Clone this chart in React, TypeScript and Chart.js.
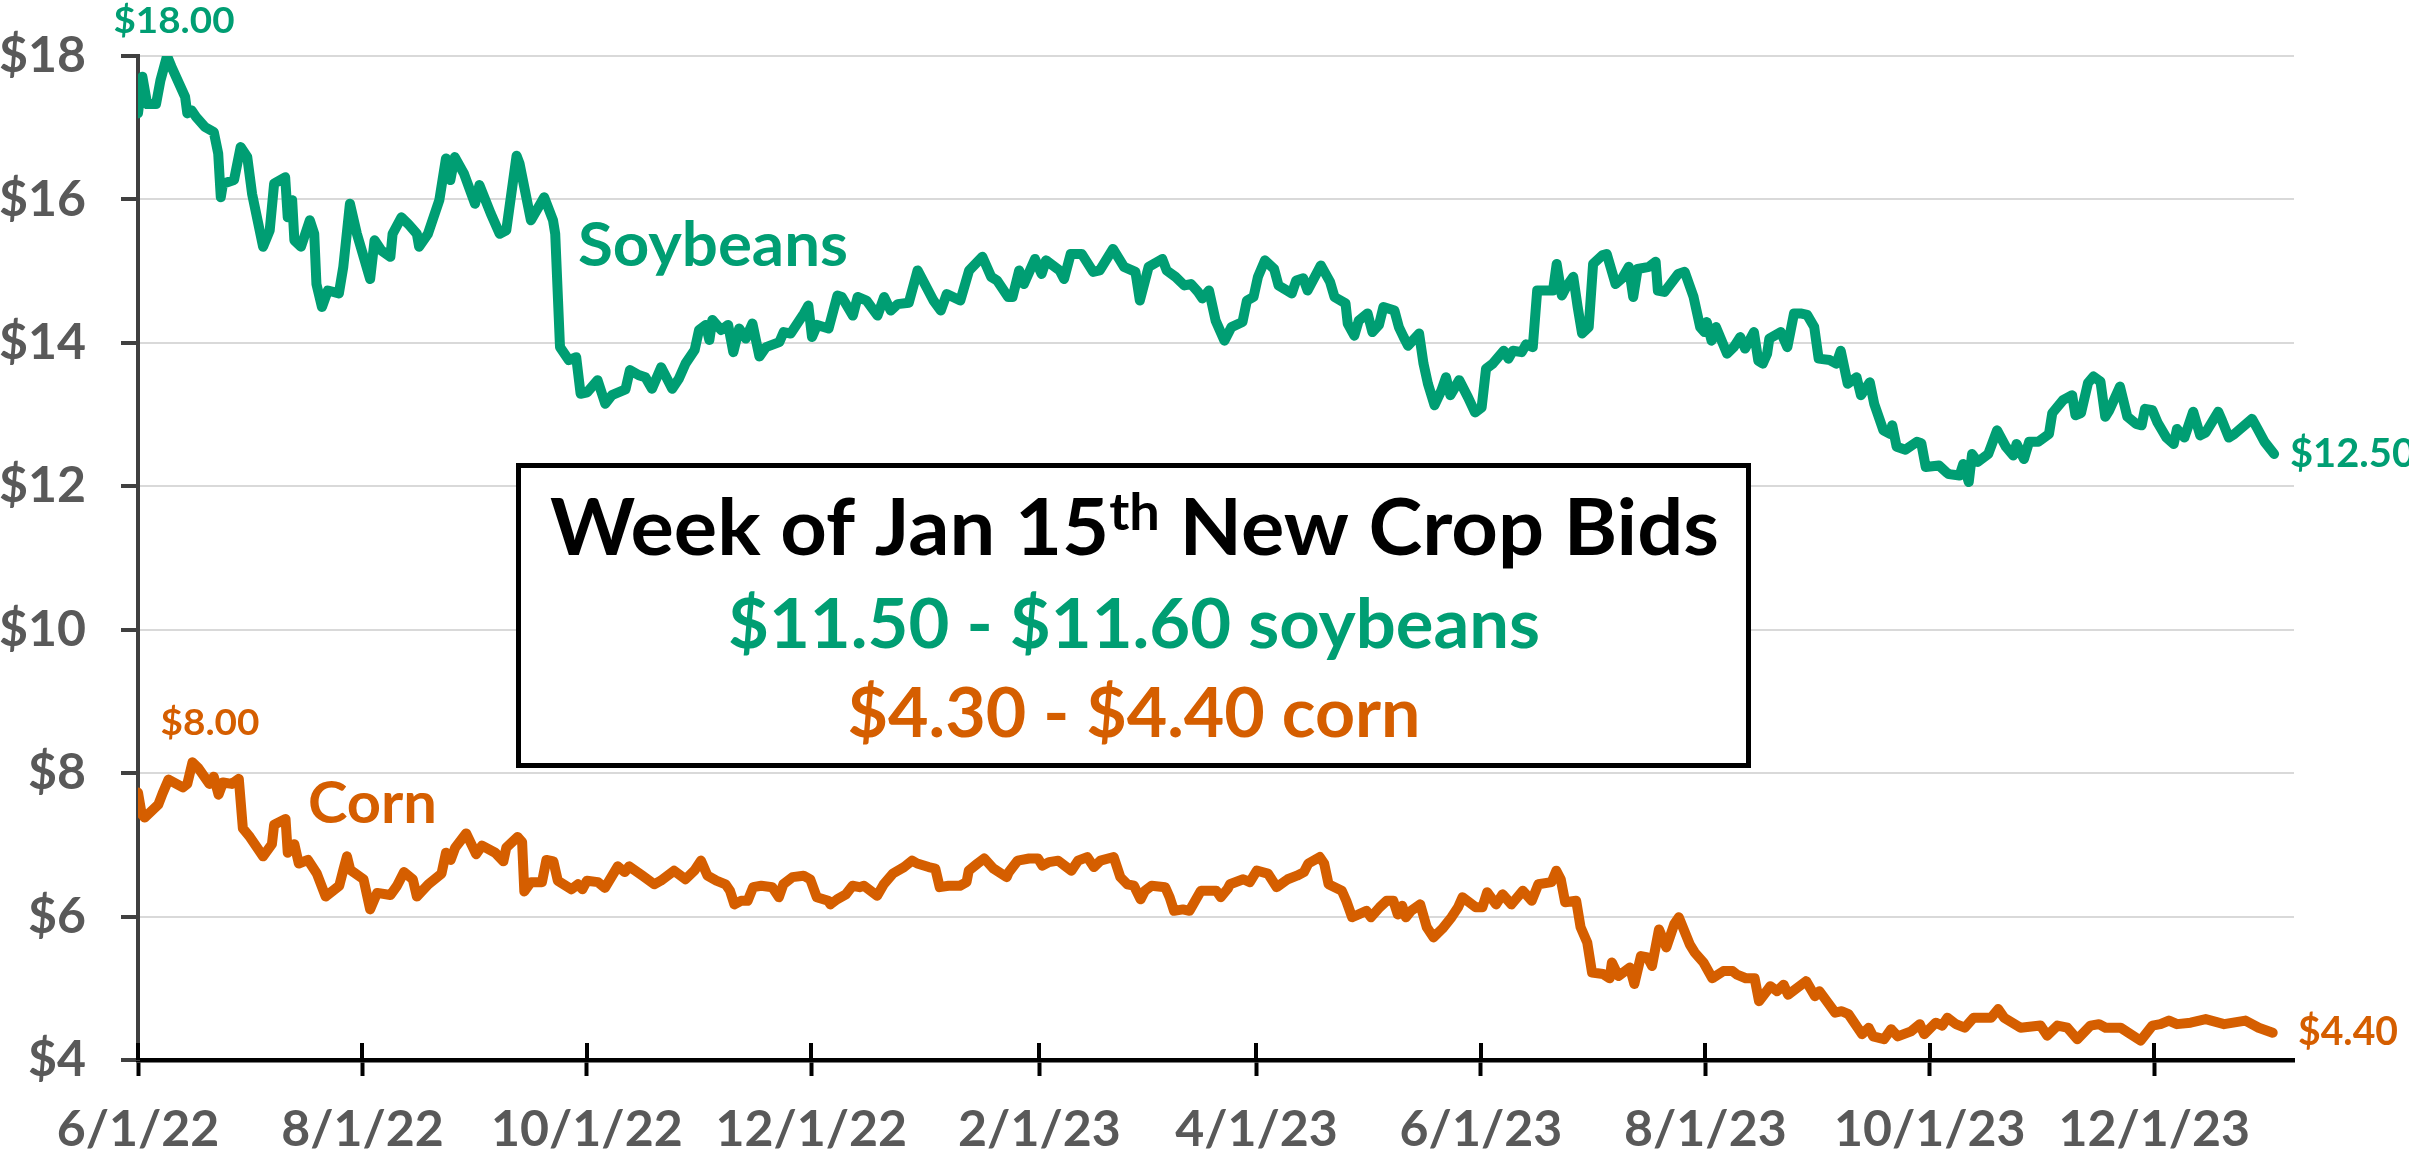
import React, { useEffect, useRef } from 'react';
import { Chart, registerables } from 'chart.js';

Chart.register(...registerables);

// ---------- data ----------
const START_DATE = '2022-06-01';
const AXIS_END_DATE = '2024-01-08';

const TICK_DATES = ['2022-06-01', '2022-08-01', '2022-10-01', '2022-12-01', '2023-02-01', '2023-04-01', '2023-06-01', '2023-08-01', '2023-10-01', '2023-12-01'];
const TICK_LABELS = ['6/1/22', '8/1/22', '10/1/22', '12/1/22', '2/1/23', '4/1/23', '6/1/23', '8/1/23', '10/1/23', '12/1/23'];

const Y_MIN = 4;
const Y_MAX = 18;
const Y_STEP = 2;

// days since 6/1/22
const SOY_DAYS = [0, 1.2, 2.5, 4.9, 6.1, 7.9, 9.1, 12.8, 13.4, 14.6, 15.8, 18.2, 20.6, 21.8, 22.5, 23.1, 26.1, 27.9, 29.7, 31, 34, 35.8, 37, 40, 40.7, 41.9, 42.5, 44.3, 46.7, 47.9, 48.5, 50, 51.6, 54.6, 55.8, 57.6, 59.5, 63.1, 64.3, 66.1, 68.6, 69.2, 71.6, 73.4, 75.8, 76.4, 78.8, 81.9, 83.7, 84.9, 86.1, 88.6, 91.6, 92.8, 95.9, 98.3, 100.1, 102.9, 103.7, 106.8, 110.4, 112.8, 113.4, 114.7, 117.1, 119.1, 120.3, 122.1, 124.9, 127, 128.8, 132.5, 133.7, 136.1, 137.9, 139.7, 142.2, 145.2, 147, 148.8, 151.3, 152.5, 154.3, 155.3, 156.1, 158.5, 160.4, 161.8, 163.4, 165.2, 167, 168.9, 170.7, 174.3, 175.5, 177.4, 181, 182.2, 183.2, 184.6, 187.7, 190.1, 191.3, 194.3, 195.6, 198, 201, 202.8, 204.6, 206.5, 209.5, 211.9, 216.2, 218.2, 219.8, 223.5, 225.9, 229.5, 231.9, 233.5, 236.5, 237.7, 239.5, 240.8, 243.8, 245.6, 246.8, 250.5, 251.7, 253.5, 256.5, 259.6, 261.4, 265, 268, 271.1, 272.3, 274.7, 278.4, 279.6, 282, 284.4, 286.2, 288.1, 289.3, 291.1, 292.9, 295.3, 297.2, 300.2, 301.4, 303.2, 304.4, 306.3, 308.8, 310, 313.6, 314.8, 316.7, 317.9, 321.5, 324, 325.2, 328.2, 328.8, 330.6, 331.8, 334.2, 335.5, 337.3, 338.5, 341.5, 342.7, 344, 345.2, 348.2, 349.4, 350.6, 352.4, 354.3, 355.5, 356.7, 359.1, 361.5, 363.4, 365.2, 366.4, 368.2, 371.2, 372.5, 373.7, 376.1, 377.3, 379.1, 380.3, 384.6, 385.6, 387, 388.2, 390.1, 391.3, 392.5, 394.3, 395.5, 398, 399.2, 401.6, 403.4, 405.2, 406.4, 407.6, 410.7, 412.5, 413.1, 414.9, 418.6, 420.4, 422.8, 424.6, 425.8, 426.4, 427.7, 428.9, 431.9, 433.7, 435.5, 436.8, 439.2, 440.4, 441.6, 442.8, 443.4, 446.5, 448.3, 450.1, 451.9, 453.7, 455.6, 456.8, 459.8, 461.6, 462.8, 464.7, 467.1, 468.3, 470.7, 471.9, 474.4, 476.2, 476.8, 478, 480.4, 483.5, 484.7, 485.9, 489.5, 491.4, 492.2, 495.1, 496.1, 497.6, 498.5, 500, 502.9, 505.3, 507.7, 509.7, 510.6, 512.6, 514, 516.5, 519.4, 520.3, 523.2, 525.7, 526.6, 528.1, 530, 531.5, 533.4, 534.7, 535.8, 538.7, 540.7, 543.1, 544.6, 545.5, 547.5, 548.9, 551.3, 553.3, 554.2, 556.2, 558.6, 560.5, 562, 564, 565.4, 566.4, 568.3, 569.8, 574.6, 576.1, 578, 580.6];
const SOY_PRICES = [17.2, 17.71, 17.33, 17.33, 17.66, 18.0, 17.85, 17.43, 17.2, 17.24, 17.15, 17.01, 16.94, 16.64, 16.03, 16.22, 16.27, 16.73, 16.59, 16.08, 15.34, 15.57, 16.22, 16.31, 15.75, 15.99, 15.43, 15.34, 15.71, 15.52, 14.82, 14.5, 14.73, 14.69, 15.06, 15.94, 15.52, 14.89, 15.43, 15.29, 15.2, 15.52, 15.75, 15.66, 15.52, 15.34, 15.52, 15.99, 16.57, 16.27, 16.59, 16.36, 15.94, 16.2, 15.8, 15.52, 15.57, 16.61, 16.5, 15.71, 16.03, 15.71, 15.52, 13.94, 13.76, 13.8, 13.29, 13.31, 13.48, 13.15, 13.27, 13.35, 13.62, 13.55, 13.52, 13.36, 13.66, 13.36, 13.5, 13.71, 13.9, 14.18, 14.25, 14.04, 14.32, 14.18, 14.25, 13.87, 14.2, 14.06, 14.27, 13.81, 13.94, 14.01, 14.15, 14.13, 14.41, 14.52, 14.08, 14.25, 14.2, 14.66, 14.64, 14.38, 14.64, 14.59, 14.38, 14.64, 14.45, 14.54, 14.56, 15.01, 14.59, 14.45, 14.68, 14.59, 15.01, 15.2, 14.92, 14.87, 14.64, 14.64, 15.01, 14.82, 15.17, 14.96, 15.15, 15.01, 14.89, 15.24, 15.24, 14.99, 15.01, 15.31, 15.06, 14.99, 14.59, 15.06, 15.17, 15.01, 14.92, 14.8, 14.82, 14.71, 14.62, 14.73, 14.31, 14.03, 14.22, 14.29, 14.59, 14.64, 14.92, 15.15, 15.03, 14.8, 14.69, 14.87, 14.9, 14.73, 15.08, 14.85, 14.64, 14.55, 14.27, 14.1, 14.31, 14.41, 14.15, 14.25, 14.5, 14.45, 14.22, 14.08, 13.96, 14.13, 13.71, 13.43, 13.13, 13.34, 13.52, 13.27, 13.48, 13.24, 13.03, 13.1, 13.64, 13.71, 13.89, 13.78, 13.89, 13.87, 13.98, 13.94, 14.73, 14.73, 15.1, 14.66, 14.78, 14.92, 14.5, 14.13, 14.22, 15.1, 15.22, 15.24, 14.82, 14.9, 15.06, 14.64, 15.03, 15.06, 15.13, 14.73, 14.71, 14.96, 14.99, 14.64, 14.22, 14.15, 14.29, 14.03, 14.22, 13.85, 13.94, 14.08, 13.92, 14.15, 13.75, 13.71, 13.85, 14.06, 14.15, 13.94, 14.41, 14.41, 14.39, 14.22, 13.78, 13.76, 13.71, 13.89, 13.43, 13.52, 13.27, 13.45, 13.15, 12.78, 12.73, 12.85, 12.55, 12.51, 12.62, 12.6, 12.27, 12.29, 12.2, 12.17, 12.15, 12.31, 12.06, 12.45, 12.34, 12.45, 12.78, 12.55, 12.43, 12.59, 12.38, 12.62, 12.62, 12.73, 13.02, 13.2, 13.27, 12.99, 13.02, 13.44, 13.53, 13.46, 12.97, 13.06, 13.39, 12.97, 12.87, 12.85, 13.08, 13.06, 12.89, 12.68, 12.59, 12.8, 12.68, 13.04, 12.71, 12.75, 12.92, 13.04, 12.92, 12.68, 12.73, 12.94, 12.8, 12.62, 12.45];

const CORN_DAYS = [0, 1, 1.8, 5.5, 6.7, 8.3, 12.2, 13.4, 14.8, 16.4, 19.4, 20.6, 21.9, 23.1, 25.5, 27.4, 28.5, 30.4, 34, 36.4, 37, 40.1, 40.7, 42.5, 43.7, 46.2, 48.6, 51, 54.7, 55.9, 56.8, 57.7, 61.3, 63.1, 65, 68.6, 70.4, 72.3, 74.7, 75.8, 78.9, 82.5, 83.7, 85, 86.2, 89.2, 91.9, 93.5, 97.1, 99.3, 100.1, 103.2, 104.4, 105, 106.8, 109.8, 111, 112.9, 114.1, 117.8, 119.6, 120.8, 122, 125, 126.9, 130.4, 132.3, 133.5, 137.1, 140.3, 142.1, 145.7, 148.8, 151.2, 153, 154.8, 157.2, 159.7, 160.9, 162.1, 163.9, 165.7, 167.2, 169.4, 172.4, 174.2, 175.4, 177.9, 180.9, 182.7, 184.5, 187.6, 188.2, 190, 192.4, 194.2, 196.1, 197.3, 200.9, 202.7, 205.2, 208.2, 210.4, 211.8, 214.9, 216.7, 217.9, 220.3, 223.4, 225.2, 225.8, 228.2, 230, 232.5, 236.1, 236.7, 239.1, 242.2, 244.6, 245.8, 247.6, 250.1, 251.9, 253.7, 255.5, 258, 259.8, 261.6, 265.2, 267, 268.9, 270.7, 272.5, 273.7, 275.5, 279.2, 280.4, 281.6, 284, 285.8, 288.9, 293.1, 294.3, 296.2, 296.8, 300.4, 302.2, 304.1, 307.1, 309.5, 312.5, 315, 316.9, 318.1, 321.2, 322.4, 323.6, 327.2, 328.4, 330, 333.9, 335.1, 337.5, 339.4, 341.2, 342.4, 343.6, 344.6, 346, 348.5, 350.3, 352.1, 354.5, 357, 358.8, 360, 363.6, 365.4, 366.7, 369.1, 370.9, 373.3, 376.4, 378.8, 380.6, 384.2, 385.5, 386.7, 387.9, 390.9, 392.1, 393.9, 395.2, 398.2, 400, 400.6, 402.4, 405.5, 406.7, 408.5, 410.3, 411.5, 413.4, 415.4, 417.6, 418.8, 421.8, 423.1, 425.5, 427.9, 430.9, 433.4, 434.6, 437, 439.4, 440.6, 443.7, 445.5, 447.3, 448.5, 453.4, 455.8, 457, 461.3, 463.1, 464.9, 468.6, 470.4, 471.6, 474.6, 476.5, 478.3, 481.9, 484.3, 485.5, 488.6, 490.4, 491.8, 494.1, 496.5, 498.9, 503.7, 505.6, 507.2, 511.7, 517.1, 518.9, 521.7, 524.4, 527.1, 530.7, 533, 534.8, 538.9, 544.3, 547.5, 549.7, 552, 554.2, 557.9, 562, 567, 572.8, 576.4, 580.2];
const CORN_PRICES = [7.73, 7.43, 7.38, 7.56, 7.72, 7.91, 7.8, 7.85, 8.15, 8.07, 7.85, 7.95, 7.7, 7.87, 7.85, 7.92, 7.23, 7.11, 6.84, 7.01, 7.28, 7.36, 6.89, 7.01, 6.74, 6.79, 6.6, 6.28, 6.43, 6.67, 6.84, 6.65, 6.52, 6.1, 6.33, 6.3, 6.43, 6.62, 6.52, 6.28, 6.45, 6.6, 6.89, 6.79, 6.96, 7.16, 6.87, 6.99, 6.89, 6.77, 6.96, 7.11, 7.04, 6.35, 6.48, 6.48, 6.79, 6.77, 6.5, 6.38, 6.45, 6.38, 6.5, 6.48, 6.4, 6.7, 6.62, 6.7, 6.57, 6.45, 6.5, 6.64, 6.52, 6.64, 6.78, 6.57, 6.5, 6.45, 6.36, 6.17, 6.22, 6.22, 6.41, 6.43, 6.41, 6.27, 6.45, 6.55, 6.57, 6.52, 6.27, 6.22, 6.17, 6.24, 6.31, 6.43, 6.41, 6.43, 6.29, 6.45, 6.6, 6.69, 6.78, 6.74, 6.69, 6.67, 6.41, 6.43, 6.43, 6.48, 6.64, 6.74, 6.81, 6.67, 6.55, 6.62, 6.78, 6.81, 6.81, 6.71, 6.76, 6.78, 6.71, 6.64, 6.78, 6.83, 6.69, 6.78, 6.83, 6.55, 6.45, 6.43, 6.24, 6.36, 6.43, 6.41, 6.27, 6.08, 6.1, 6.08, 6.36, 6.36, 6.27, 6.39, 6.45, 6.52, 6.48, 6.64, 6.6, 6.41, 6.52, 6.57, 6.62, 6.74, 6.83, 6.74, 6.45, 6.36, 6.22, 5.99, 6.08, 5.99, 6.13, 6.22, 6.22, 6.03, 6.15, 5.99, 6.08, 6.17, 5.85, 5.71, 5.83, 5.99, 6.13, 6.27, 6.13, 6.13, 6.34, 6.17, 6.31, 6.17, 6.36, 6.22, 6.45, 6.48, 6.64, 6.52, 6.2, 6.22, 5.85, 5.64, 5.22, 5.2, 5.14, 5.36, 5.17, 5.29, 5.06, 5.45, 5.43, 5.31, 5.82, 5.57, 5.9, 5.99, 5.61, 5.5, 5.36, 5.14, 5.24, 5.24, 5.19, 5.14, 5.14, 4.82, 5.03, 4.96, 5.05, 4.91, 5.1, 4.89, 4.96, 4.66, 4.68, 4.64, 4.36, 4.45, 4.33, 4.29, 4.43, 4.33, 4.4, 4.5, 4.36, 4.52, 4.48, 4.59, 4.5, 4.45, 4.59, 4.59, 4.71, 4.59, 4.45, 4.48, 4.34, 4.48, 4.45, 4.29, 4.48, 4.5, 4.45, 4.45, 4.27, 4.48, 4.5, 4.55, 4.5, 4.52, 4.57, 4.5, 4.55, 4.45, 4.38];

const SOY_NAME = 'Soybeans';
const CORN_NAME = 'Corn';
const SOY_HIGH_LABEL = '$18.00';
const SOY_LAST_LABEL = '$12.50';
const CORN_HIGH_LABEL = '$8.00';
const CORN_LAST_LABEL = '$4.40';
const BOX_TITLE_MAIN = 'Week of Jan 15';
const BOX_TITLE_SUP = 'th';
const BOX_TITLE_REST = ' New Crop Bids';
const BOX_SOY_LINE = '$11.50 - $11.60 soybeans';
const BOX_CORN_LINE = '$4.30 - $4.40 corn';

// ---------- styling ----------
const GREEN = '#009E73';
const ORANGE = '#D55E00';
const TICK_TEXT = '#595959';
const FONT = 'Lato';

const dayOf = (d: string) => (Date.parse(d) - Date.parse(START_DATE)) / 86400000;

function drawFitted(ctx: CanvasRenderingContext2D, text: string, size: number, color: string, anchorX: number, baseline: number, align: 'left' | 'center', width: number) {
  ctx.save();
  ctx.font = `bold ${size}px ${FONT}`;
  ctx.fillStyle = color;
  ctx.textAlign = 'left';
  ctx.textBaseline = 'alphabetic';
  const w = ctx.measureText(text).width;
  const sx = width / w;
  const left = align === 'center' ? anchorX - width / 2 : anchorX;
  ctx.translate(left, baseline);
  ctx.scale(sx, 1);
  ctx.fillText(text, 0, 0);
  ctx.restore();
}

const overlayPlugin = {
  id: 'overlay',
  beforeDatasetsDraw(chart: any) {
    const ctx = chart.ctx as CanvasRenderingContext2D;
    const xs = chart.scales.x;
    const bottom = chart.chartArea.bottom;
    ctx.save();
    ctx.strokeStyle = '#000';
    ctx.lineWidth = 4;
    xs.ticks.forEach((t: any) => {
      const px = Math.round(xs.getPixelForValue(t.value));
      ctx.beginPath();
      ctx.moveTo(px, bottom - 17);
      ctx.lineTo(px, bottom);
      ctx.stroke();
    });
    ctx.restore();
  },
  afterDatasetsDraw(chart: any) {
    const ctx = chart.ctx as CanvasRenderingContext2D;
    // annotation box
    ctx.save();
    ctx.fillStyle = '#fff';
    ctx.fillRect(516, 463, 1235, 305);
    ctx.strokeStyle = '#000';
    ctx.lineWidth = 5;
    ctx.strokeRect(518.5, 465.5, 1230, 300);
    ctx.restore();

    // title with superscript
    ctx.save();
    const mainSize = 78;
    const supSize = 52;
    ctx.font = `bold ${mainSize}px ${FONT}`;
    const wA = ctx.measureText(BOX_TITLE_MAIN).width;
    const wC = ctx.measureText(BOX_TITLE_REST).width;
    ctx.font = `bold ${supSize}px ${FONT}`;
    const wB = ctx.measureText(BOX_TITLE_SUP).width;
    const targetW = 1169;
    const sx = targetW / (wA + wB + wC);
    ctx.translate(1134.5 - targetW / 2, 555);
    ctx.scale(sx, 1);
    ctx.fillStyle = '#000';
    ctx.textBaseline = 'alphabetic';
    ctx.textAlign = 'left';
    ctx.font = `bold ${mainSize}px ${FONT}`;
    ctx.fillText(BOX_TITLE_MAIN, 0, 0);
    ctx.fillText(BOX_TITLE_REST, wA + wB, 0);
    ctx.font = `bold ${supSize}px ${FONT}`;
    ctx.fillText(BOX_TITLE_SUP, wA, -25);
    ctx.restore();

    drawFitted(ctx, BOX_SOY_LINE, 69, GREEN, 1134, 648, 'center', 812);
    drawFitted(ctx, BOX_CORN_LINE, 69, ORANGE, 1134, 737, 'center', 573);

    // series labels
    drawFitted(ctx, SOY_HIGH_LABEL, 37, GREEN, 174, 33, 'center', 121);
    drawFitted(ctx, SOY_NAME, 61, GREEN, 578, 266, 'left', 270);
    drawFitted(ctx, SOY_LAST_LABEL, 40, GREEN, 2290, 467, 'left', 125);
    drawFitted(ctx, CORN_HIGH_LABEL, 37, ORANGE, 210, 735, 'center', 99);
    drawFitted(ctx, CORN_NAME, 57, ORANGE, 308, 823, 'left', 129);
    drawFitted(ctx, CORN_LAST_LABEL, 40, ORANGE, 2298, 1045, 'left', 100);
  },
};

export default function App() {
  const ref = useRef<HTMLCanvasElement | null>(null);

  useEffect(() => {
    document.body.style.margin = '0';
    const canvas = ref.current;
    if (!canvas) return;
    const tickValues = TICK_DATES.map(dayOf);
    const lineStyle = {
      borderWidth: 10,
      pointRadius: 0,
      tension: 0,
      borderJoinStyle: 'round',
      borderCapStyle: 'round',
    };
    const chart = new Chart(canvas, {
      type: 'line',
      data: {
        datasets: [
          {
            label: SOY_NAME,
            data: SOY_DAYS.map((d, i) => ({ x: d, y: SOY_PRICES[i] })),
            borderColor: GREEN,
            ...lineStyle,
          },
          {
            label: CORN_NAME,
            data: CORN_DAYS.map((d, i) => ({ x: d, y: CORN_PRICES[i] })),
            borderColor: ORANGE,
            ...lineStyle,
          },
        ],
      },
      options: {
        animation: false,
        responsive: false,
        maintainAspectRatio: false,
        devicePixelRatio: 1,
        events: [],
        layout: { padding: { top: 56, right: 115, bottom: 0, left: 0 } },
        plugins: { legend: { display: false }, tooltip: { enabled: false } },
        scales: {
          x: {
            type: 'linear',
            min: 0,
            max: dayOf(AXIS_END_DATE),
            afterBuildTicks: (scale: any) => {
              scale.ticks = tickValues.map((v) => ({ value: v }));
            },
            afterFit: (scale: any) => {
              scale.height = 93;
              scale.paddingLeft = 0;
              scale.paddingRight = 0;
            },
            ticks: {
              autoSkip: false,
              maxRotation: 0,
              minRotation: 0,
              padding: 24,
              color: TICK_TEXT,
              font: { family: FONT, size: 50, weight: 'bold' },
              callback: (_v: any, i: number) => TICK_LABELS[i],
            },
            grid: {
              display: true,
              drawOnChartArea: false,
              drawTicks: true,
              tickLength: 16,
              tickColor: '#000',
              tickWidth: 4,
            },
            border: { display: true, color: '#000', width: 4.5 },
          },
          y: {
            type: 'linear',
            min: Y_MIN,
            max: Y_MAX,
            afterFit: (scale: any) => {
              scale.width = 138;
              scale.paddingTop = 0;
              scale.paddingBottom = 0;
            },
            ticks: {
              stepSize: Y_STEP,
              padding: 35,
              color: TICK_TEXT,
              font: { family: FONT, size: 50, weight: 'bold' },
              callback: (v: any) => '$' + v,
            },
            grid: {
              color: '#d9d9d9',
              lineWidth: 2,
              drawTicks: true,
              tickLength: 17,
              tickColor: '#404040',
              tickWidth: 4,
            },
            border: { display: true, color: '#404040', width: 4 },
          },
        },
      },
      plugins: [overlayPlugin],
    } as any);
    return () => chart.destroy();
  }, []);

  return (
    <div style={{ width: 2409, height: 1153, background: '#ffffff' }}>
      <canvas ref={ref} width={2409} height={1153} style={{ display: 'block' }} />
    </div>
  );
}
